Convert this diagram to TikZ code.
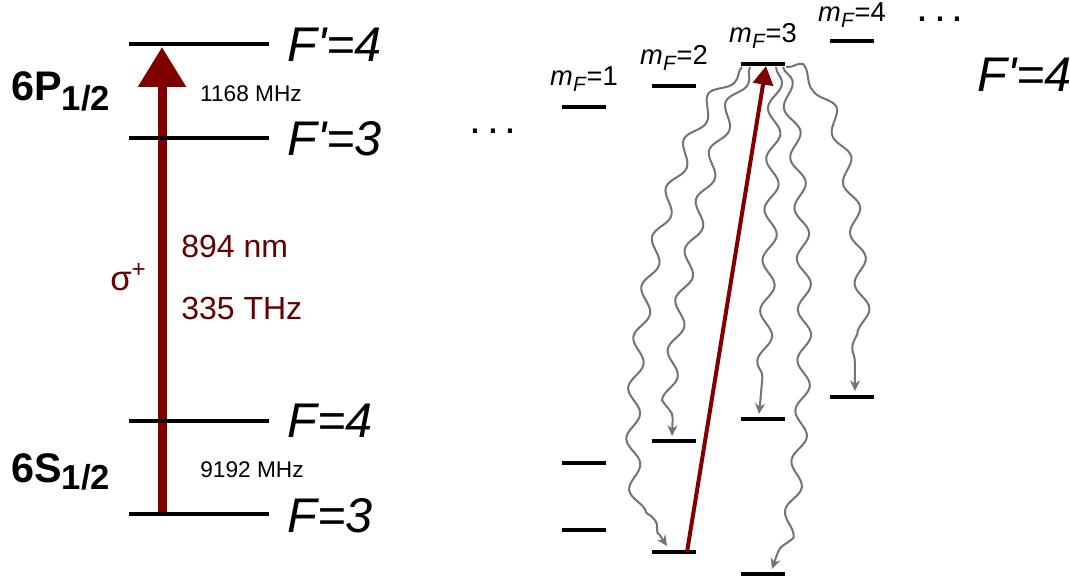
\documentclass[tikz,border=0pt]{standalone}
\usepackage{fontspec}
\setmainfont[Ligatures=TeXOff]{Liberation Sans}
\usetikzlibrary{arrows.meta,decorations.pathmorphing}
\definecolor{arrred}{RGB}{128,0,0}
\definecolor{txtred}{RGB}{100,0,0}
\definecolor{wavegray}{RGB}{115,115,115}
\newcommand\mflabel[1]{\textit{m}\raisebox{-0.35ex}{\fontsize{15.5}{16}\selectfont\textit{F}}=#1}
\begin{document}
\begin{tikzpicture}[x=0.75pt,y=-0.75pt,
  lvl/.style={line width=3pt},
  sublvl/.style={line width=3.2pt},
  bigit/.style={font=\fontsize{36.5}{40}\selectfont\itshape, inner sep=0pt, anchor=base west},
  state/.style={font=\fontsize{31}{34}\selectfont\bfseries, inner sep=0pt, anchor=base west},
  small/.style={font=\fontsize{17}{20}\selectfont, inner sep=0pt, anchor=base},
  redtxt/.style={font=\fontsize{24}{28}\selectfont, text=txtred, inner sep=0pt, anchor=base west},
  mflab/.style={font=\fontsize{20.5}{24}\selectfont, inner sep=0pt, anchor=base},
  dots/.style={font=\fontsize{32}{34}\selectfont, inner sep=0pt, anchor=base},
  wave/.style={draw=wavegray, line width=1.5pt, decorate,
    decoration={snake, amplitude=5pt, segment length=38pt, post length=10pt},
    -{Stealth[length=8pt,width=7.5pt]}},
]
\useasboundingbox (0,0) rectangle (1070,581);

% ---------- left: hyperfine levels ----------
\coordinate (P4w) at (129,44);  \coordinate (P4e) at (269,44);
\coordinate (P3w) at (129,138); \coordinate (P3e) at (269,138);
\coordinate (S4w) at (129,421); \coordinate (S4e) at (269,421);
\coordinate (S3w) at (129,514); \coordinate (S3e) at (269,514);
\coordinate (pumpB) at (162,514);
\coordinate (pumpT) at (162,47);

\draw[arrred, line width=6.75pt, -{Triangle[length=30pt,width=34.5pt]}] (pumpB) -- (pumpT);

\draw[lvl] (P4w) -- (P4e);
\draw[lvl] (P3w) -- (P3e);
\draw[lvl] (S4w) -- (S4e);
\draw[lvl] (S3w) -- (S3e);

\node[bigit] (lP4) at (287,62) {F'=4};
\node[bigit] (lP3) at (287,156) {F'=3};
\node[bigit] (lS4) at (287,437) {F=4};
\node[bigit] (lS3) at (287,532) {F=3};

\node[state] (sP) at (11,101) {6P\raisebox{-0.45ex}{\fontsize{26}{28}\selectfont 1/2}};
\node[state] (sS) at (11,482) {6S\raisebox{-0.35ex}{\fontsize{26}{28}\selectfont 1/2}};

\node[small] (hfP) at (251,102) {1168 MHz};
\node[small] (hfS) at (252,477) {9192 MHz};

\node[redtxt] (lam) at (181,257) {894 nm};
\node[redtxt] (nu) at (181,319) {335 THz};
\node[redtxt, font=\fontsize{26}{28}\selectfont] (sig) at (110,290) {σ\textsuperscript{+}};

% ---------- right: Zeeman sublevels ----------
% excited F'=4
\foreach \n/\x/\y/\d in {1/584/107/21, 2/674/86/21, 3/763/64/21, 4/852/41/19}{
  \coordinate (u\n w) at (\x-22,\y);
  \coordinate (u\n e) at (\x+22,\y);
  \draw[sublvl] (u\n w) -- (u\n e);
  \node[mflab] (mf\n) at (\x,\y-\d) {\mflabel{\n}};
}
% ground F=4
\foreach \n/\x/\y in {1/584/463, 2/674/441, 3/763/419, 4/852/397}{
  \coordinate (g\n w) at (\x-22,\y);
  \coordinate (g\n e) at (\x+22,\y);
  \draw[sublvl] (g\n w) -- (g\n e);
}
% ground F=3
\foreach \n/\x/\y in {1/584/530, 2/674/552, 3/763/574}{
  \coordinate (h\n w) at (\x-22,\y);
  \coordinate (h\n e) at (\x+22,\y);
  \draw[sublvl] (h\n w) -- (h\n e);
}

\node[dots] (dl) at (493,134) {.\hspace{4.2pt}.\hspace{4.2pt}.};
\node[dots] (dr) at (940,22) {.\hspace{4.2pt}.\hspace{4.2pt}.};
\node[bigit] (rP4) at (977,92) {F'=4};

% pump sigma+ transition
\coordinate (sigB) at (687,552);
\coordinate (sigT) at (766,66);
\draw[arrred, line width=3pt, -{Triangle[length=14pt,width=15pt]}] (sigB) -- (sigT);

% spontaneous decays
\coordinate (w1s) at (742,67); \coordinate (w1e) at (667,546);
\coordinate (w2s) at (750,67); \coordinate (w2e) at (672,436);
\coordinate (w3s) at (776,67); \coordinate (w3e) at (759,414);
\coordinate (w4s) at (783,67); \coordinate (w4e) at (772,569);
\coordinate (w5s) at (786,67); \coordinate (w5e) at (855,391);

\draw[wave] (w1s) .. controls (660,140) and (610,480) .. (w1e);
\draw[wave] (w2s) .. controls (715,130) and (675,320) .. (w2e);
\draw[wave] (w3s) .. controls (772,180) and (768,330) .. (w3e);
\draw[wave] (w4s) .. controls (810,200) and (810,470) .. (w4e);
\draw[wave] (w5s) .. controls (845,80) and (855,300) .. (w5e);
\end{tikzpicture}
\end{document}
